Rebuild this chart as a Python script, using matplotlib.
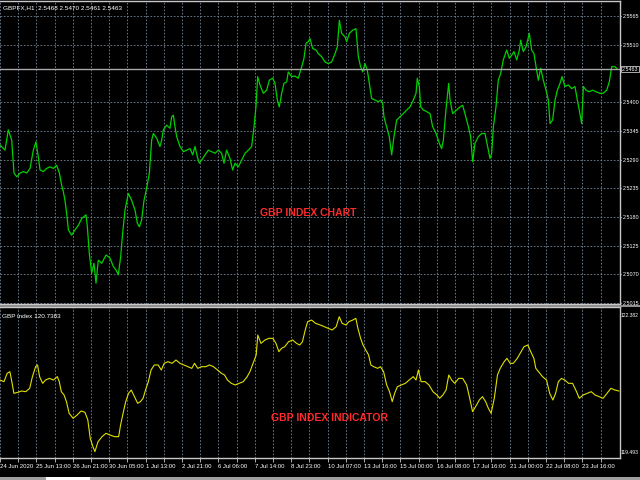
import numpy as np
import matplotlib
matplotlib.use("Agg")
import matplotlib.pyplot as plt
from matplotlib import font_manager
from matplotlib.patches import Rectangle

# GBPFX H1 close (bar index, price)
price_bar = [0, 4.4, 7.3, 10.3, 12.3, 14.7, 17.6, 20.5, 23.4, 26.4, 29.3, 31.6, 33.7, 35.2,
             38.1, 41.0, 44.0, 46.9, 49.8, 52.2, 54.2, 55.7, 57.1, 58.6, 60.1, 63.0, 65.9,
             68.9, 71.8, 75.6, 76.8, 78.5, 80.6, 82.6, 84.4, 86.4, 89.4, 93.2, 96.7, 99.6,
             102.0, 104.0, 106.1, 107.8, 109.9, 112.8, 115.7, 118.7, 120.7, 122.5, 124.5,
             126.6, 128.9, 131.3, 133.3, 134.8, 137.7, 140.6, 142.1, 143.6, 146.5, 149.4,
             150.9, 152.4, 153.8, 155.3, 158.2, 161.2, 164.1, 167.0, 169.4, 171.4, 173.5,
             175.2, 177.3, 180.2, 183.1, 186.1, 189.0, 191.9, 194.8, 196.9, 199.2, 202.2,
             204.5, 206.6, 209.5, 212.4, 215.4, 218.3, 221.2, 223.3, 225.0, 226.5, 228.5,
             231.5, 234.4, 236.7, 239.7, 241.7, 243.8, 245.5, 247.6, 249.6, 252.0, 253.4,
             256.4, 259.3, 262.2, 265.2, 267.2, 269.0, 271.0, 272.5, 274.8, 277.8, 279.8,
             282.8, 285.7, 288.6, 291.5, 294.5, 296.5, 298.3, 300.3, 303.3, 304.7, 307.1,
             310.0, 312.9, 315.0, 317.0, 318.8, 320.8, 322.9, 324.7, 326.7, 329.6, 332.6,
             334.6, 336.4, 337.5, 339.9, 342.2, 344.3, 346.3, 348.7, 351.6, 354.5, 357.5,
             360.4, 363.3, 365.7, 366.8, 368.6, 369.8, 372.1, 375.1, 378.0, 380.3, 383.3,
             386.2, 388.2, 389.7, 392.0, 394.4, 395.6, 397.9, 401.4, 404.4, 406.7, 408.7,
             411.7, 413.7, 415.5, 417.5, 420.5, 423.4, 426.3, 429.3, 430.7, 432.2, 433.7,
             436.0, 438.0, 440.1, 442.4, 445.4, 447.7, 449.8, 451.8, 454.2, 456.5, 457.7,
             460.0, 462.4, 465.3, 467.3, 469.4, 471.2, 473.2, 475.3, 477.6, 480.0, 482.0,
             483.5, 485.8, 487.9, 489.9, 492.3, 494.0, 496.6, 499.6, 502.5, 505.4, 507.5,
             509.2, 511.3, 512.8, 515.1, 518.0, 521.0, 523.9, 527.4, 530.3, 533.3, 535.6,
             537.7, 540.6, 542.7]
price = [2.5318, 2.5308, 2.5347, 2.5327, 2.5264, 2.5257, 2.5264, 2.5267, 2.5264, 2.5273,
         2.5308, 2.5324, 2.5295, 2.5270, 2.5267, 2.5273, 2.5276, 2.5273, 2.5279, 2.5264,
         2.5241, 2.5228, 2.5212, 2.5187, 2.5155, 2.5145, 2.5155, 2.5164, 2.5177, 2.5184,
         2.5161, 2.5110, 2.5072, 2.5091, 2.5053, 2.5097, 2.5091, 2.5107, 2.5101, 2.5085,
         2.5078, 2.5069, 2.5104, 2.5149, 2.5193, 2.5225, 2.5212, 2.5193, 2.5168, 2.5161,
         2.5174, 2.5212, 2.5235, 2.5264, 2.5327, 2.5340, 2.5331, 2.5315, 2.5327, 2.5347,
         2.5356, 2.5350, 2.5372, 2.5375, 2.5353, 2.5334, 2.5315, 2.5305, 2.5308, 2.5311,
         2.5299, 2.5315, 2.5295, 2.5283, 2.5289, 2.5299, 2.5308, 2.5305, 2.5302, 2.5308,
         2.5302, 2.5283, 2.5308, 2.5292, 2.5270, 2.5283, 2.5276, 2.5289, 2.5302, 2.5308,
         2.5315, 2.5353, 2.5391, 2.5449, 2.5433, 2.5417, 2.5423, 2.5442, 2.5446, 2.5436,
         2.5404, 2.5391, 2.5417, 2.5436, 2.5439, 2.5458, 2.5449, 2.5450, 2.5446, 2.5468,
         2.5484, 2.5513, 2.5516, 2.5522, 2.5503, 2.5500, 2.5493, 2.5487, 2.5477, 2.5474,
         2.5477, 2.5493, 2.5506, 2.5557, 2.5532, 2.5525, 2.5516, 2.5532, 2.5538, 2.5541,
         2.5487, 2.5468, 2.5458, 2.5474, 2.5461, 2.5436, 2.5407, 2.5404, 2.5401, 2.5404,
         2.5398, 2.5372, 2.5353, 2.5334, 2.5299, 2.5334, 2.5366, 2.5372, 2.5378, 2.5385,
         2.5391, 2.5404, 2.5417, 2.5446, 2.5430, 2.5391, 2.5385, 2.5382, 2.5378, 2.5353,
         2.5340, 2.5321, 2.5311, 2.5327, 2.5385, 2.5436, 2.5404, 2.5378, 2.5385, 2.5391,
         2.5394, 2.5378, 2.5353, 2.5334, 2.5286, 2.5321, 2.5334, 2.5340, 2.5340, 2.5308,
         2.5292, 2.5302, 2.5353, 2.5391, 2.5442, 2.5455, 2.5481, 2.5500, 2.5484, 2.5490,
         2.5497, 2.5481, 2.5500, 2.5519, 2.5497, 2.5506, 2.5532, 2.5500, 2.5493, 2.5468,
         2.5442, 2.5465, 2.5442, 2.5423, 2.5404, 2.5359, 2.5366, 2.5404, 2.5423, 2.5436,
         2.5449, 2.5430, 2.5433, 2.5426, 2.5430, 2.5404, 2.5385, 2.5359, 2.5430, 2.5423,
         2.5420, 2.5423, 2.5420, 2.5417, 2.5417, 2.5423, 2.5439, 2.5468, 2.5468, 2.5463]

# GBP index indicator (bar index, value)
index_bar = [0, 3.5, 6.3, 8.7, 10.4, 12.2, 15.6, 19.1, 22.6, 26.1, 28.5, 31.3, 33.0, 34.8,
             37.5, 40.0, 43.5, 46.9, 50.4, 52.1, 53.9, 56.3, 58.4, 60.8, 64.3, 67.8, 71.3,
             74.7, 77.2, 79.3, 81.7, 83.4, 86.2, 89.7, 93.2, 96.6, 100.8, 104.3, 106.0, 108.5,
             110.5, 113.0, 115.4, 118.2, 121.0, 123.4, 125.8, 127.9, 130.4, 132.8, 135.6,
             139.0, 141.8, 144.3, 147.7, 151.2, 154.7, 158.2, 161.6, 165.1, 168.6, 171.0,
             173.8, 177.3, 180.8, 184.2, 187.7, 191.2, 194.7, 197.4, 199.9, 203.3, 206.8,
             210.3, 213.8, 217.3, 219.7, 222.5, 225.2, 226.6, 229.4, 232.9, 236.4, 239.8,
             242.6, 245.1, 247.5, 250.3, 253.7, 257.2, 260.7, 263.5, 265.9, 268.3, 270.4,
             273.9, 277.4, 281.6, 285.0, 288.5, 292.0, 295.5, 298.2, 300.7, 304.2, 306.6,
             310.1, 312.8, 314.6, 317.0, 319.1, 321.5, 324.0, 326.0, 328.5, 332.0, 334.4,
             337.2, 339.9, 342.4, 344.8, 346.9, 349.3, 352.8, 356.3, 359.8, 363.2, 365.7,
             367.8, 370.2, 373.7, 377.1, 380.6, 384.1, 386.5, 389.3, 392.1, 394.5, 397.0,
             399.7, 403.2, 406.7, 410.2, 412.9, 415.4, 418.9, 421.3, 424.1, 426.9, 429.3,
             431.7, 434.5, 437.3, 439.7, 443.2, 445.6, 448.4, 451.2, 454.7, 458.1, 460.6,
             464.0, 466.5, 469.3, 471.0, 473.4, 476.9, 480.4, 483.2, 486.0, 488.4, 490.8,
             493.6, 496.4, 499.8, 503.3, 506.8, 509.2, 512.7, 516.2, 519.7, 523.1, 526.6,
             530.1, 533.6, 537.0, 540.5, 544.0]
index_val = [121.011, 120.976, 121.152, 121.187, 120.976, 120.730, 120.751, 120.779, 120.765,
             120.836, 121.082, 121.292, 121.328, 121.082, 120.941, 121.011, 121.046, 121.011,
             121.082, 120.976, 120.765, 120.695, 120.554, 120.308, 120.203, 120.273, 120.358,
             120.329, 120.168, 119.781, 119.605, 119.500, 119.711, 119.816, 119.887, 119.851,
             119.816, 119.816, 120.062, 120.344, 120.554, 120.730, 120.800, 120.660, 120.519,
             120.554, 120.625, 120.800, 120.976, 121.222, 121.328, 121.328, 121.222, 121.363,
             121.398, 121.363, 121.433, 121.363, 121.328, 121.292, 121.257, 121.363, 121.257,
             121.292, 121.292, 121.328, 121.292, 121.222, 121.152, 121.117, 121.011, 120.941,
             120.906, 120.941, 120.976, 121.082, 121.187, 121.363, 121.538, 121.960, 121.784,
             121.855, 121.890, 121.890, 121.784, 121.609, 121.679, 121.714, 121.820, 121.855,
             121.784, 121.749, 121.820, 122.066, 122.241, 122.276, 122.206, 122.171, 122.136,
             122.101, 122.066, 122.136, 122.347, 122.206, 122.171, 122.241, 122.276, 122.312,
             122.101, 121.890, 121.749, 121.644, 121.538, 121.328, 121.292, 121.257, 121.292,
             121.187, 120.906, 120.765, 120.554, 120.730, 120.871, 120.906, 120.941, 121.011,
             121.082, 121.011, 121.222, 120.976, 120.976, 120.906, 120.765, 120.695, 120.625,
             120.695, 120.800, 121.117, 121.011, 120.941, 121.046, 121.046, 120.906, 120.625,
             120.344, 120.484, 120.589, 120.660, 120.554, 120.414, 120.308, 120.625, 121.117,
             121.257, 121.398, 121.468, 121.363, 121.363, 121.468, 121.609, 121.714, 121.749,
             121.609, 121.468, 121.257, 121.187, 121.082, 121.011, 120.730, 120.589, 120.730,
             120.976, 121.046, 121.011, 120.941, 120.941, 120.765, 120.625, 120.695, 120.730,
             120.765, 120.695, 120.660, 120.625, 120.730, 120.836, 120.800, 120.779]

date_labels = ["24 Jun 2020", "25 Jun 13:00", "26 Jun 21:00", "30 Jun 05:00", "1 Jul 13:00",
               "2 Jul 21:00", "6 Jul 06:00", "7 Jul 14:00", "8 Jul 23:00", "10 Jul 07:00",
               "13 Jul 16:00", "15 Jul 00:00", "16 Jul 08:00", "17 Jul 16:00", "21 Jul 00:00",
               "22 Jul 08:00", "23 Jul 16:00"]
price_ticks = [2.5015, 2.5070, 2.5125, 2.5180, 2.5235, 2.5290, 2.5345, 2.5400, 2.5510, 2.5565]
last_price = 2.5463
index_hi, index_lo = 122.382, 119.493

# MT4 uses a very narrow font; take a narrow face if there is one
names = {f.name for f in font_manager.fontManager.ttflist}
if "Liberation Sans Narrow" in names:
    small, k = ["Liberation Sans Narrow", "DejaVu Sans"], 1.2
else:
    small, k = ["Liberation Sans", "DejaVu Sans"], 1.0
label_fs = 4.3 * k
axis_fs = 3.9 * k

grid_kw = dict(color="#778899", linestyle=(0, (2, 2)), linewidth=0.6)

fig = plt.figure(figsize=(6.4, 4.8), dpi=100, facecolor="black")
W, H = 640.0, 480.0

ax1 = fig.add_axes([0, 1 - 304 / H, 620 / W, 303 / H], facecolor="black")
ax2 = fig.add_axes([0, 1 - 458 / H, 620 / W, 151 / H], facecolor="black")

nbars = 545
bars_per_label = 32
for ax in (ax1, ax2):
    ax.set_xlim(0, nbars)
    ax.set_xticks(np.arange(len(date_labels)) * bars_per_label)
    ax.set_xticks(np.arange(bars_per_label // 2, nbars, bars_per_label), minor=True)
    ax.grid(True, which="both", axis="x", **grid_kw)
    ax.set_axisbelow(True)
    ax.yaxis.tick_right()
    ax.spines["left"].set_visible(False)
    for s in ("top", "right", "bottom"):
        ax.spines[s].set_color("#c8c8c8")
        ax.spines[s].set_linewidth(1.0)

# top panel: price
ax1.plot(price_bar, price, color="#00d000", linewidth=0.9)
ax1.axhline(last_price, color="#a8a8a8", linewidth=1.0)
ax1.set_ylim(2.5013, 2.5594)
ax1.set_yticks(price_ticks)
ax1.set_yticklabels([f"{v:.4f}" for v in price_ticks])
ax1.grid(True, axis="y", **grid_kw)
ax1.tick_params(axis="y", colors="white", labelsize=axis_fs, length=1, pad=0.8)
ax1.tick_params(axis="x", which="both", length=0, labelbottom=False)
for lab in ax1.get_yticklabels():
    lab.set_family(small)
ax1.text(1.003, last_price, f"{last_price:.4f}", transform=ax1.get_yaxis_transform(),
         color="white", fontsize=axis_fs, family=small, va="center", ha="left",
         bbox=dict(facecolor="black", edgecolor="#c8c8c8", pad=0.4, linewidth=0.6))
ax1.text(0.497, 0.30, "GBP INDEX CHART", transform=ax1.transAxes, color="#ff2a2a",
         fontsize=7.5 * k, fontweight="bold", family=small, ha="center", va="center")

# bottom panel: indicator
ax2.plot(index_bar, index_val, color="#e0e000", linewidth=0.8)
ax2.set_ylim(119.366, 122.551)
ax2.set_yticks([index_lo, index_hi])
ax2.set_yticklabels([f"{index_lo:.3f}", f"{index_hi:.3f}"])
ax2.tick_params(axis="y", colors="white", labelsize=3.6 * k, length=0, pad=0.8)
for lab in ax2.get_yticklabels():
    lab.set_family(small)
ax2.set_xticklabels(date_labels)
ax2.tick_params(axis="x", which="both", colors="#c8c8c8", length=3, width=0.6,
                labelcolor="white", labelsize=label_fs, pad=1)
for lab in ax2.get_xticklabels():
    lab.set_family(small)
    lab.set_horizontalalignment("left")
ax2.text(0.532, 0.265, "GBP INDEX INDICATOR", transform=ax2.transAxes, color="#ff2a2a",
         fontsize=7.5 * k, fontweight="bold", family=small, ha="center", va="center")

# window captions
fig.text(3 / W, 1 - 8 / H, "GBPFX,H1  2.5468 2.5470 2.5461 2.5463", color="white",
         fontsize=4.6 * k, family=small, va="center")
fig.text(2 / W, 1 - 316 / H, "GBP index 120.7383", color="white",
         fontsize=4.6 * k, family=small, va="center")

# separator between panels and the tab strip at the bottom
fig.patches.append(Rectangle((0, 1 - 306.5 / H), 1, 2 / H, transform=fig.transFigure,
                             facecolor="#909090", edgecolor="none"))
fig.patches.append(Rectangle((0, 0), 1, 3 / H, transform=fig.transFigure,
                             facecolor="#a0a0a0", edgecolor="none"))
fig.patches.append(Rectangle((46 / W, 0), 44 / W, 3 / H, transform=fig.transFigure,
                             facecolor="white", edgecolor="none"))

fig.savefig("out.png", dpi=100, facecolor="black")
